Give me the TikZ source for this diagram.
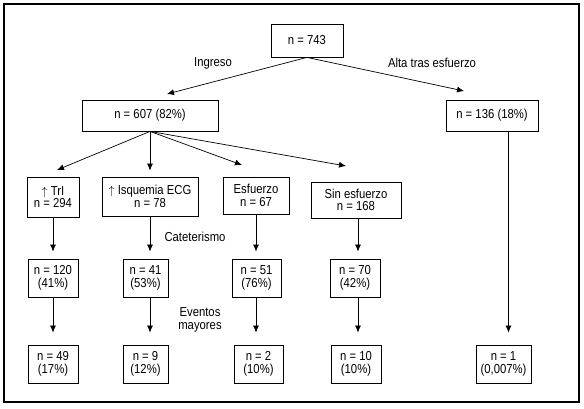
\documentclass[tikz,border=0pt]{standalone}
\usepackage{fontspec}
\setmainfont{Liberation Sans}[FakeStretch=0.87]
\usetikzlibrary{arrows.meta}

\tikzset{
  caja/.style={draw,line width=0.8pt,inner sep=0pt,align=center},
  flecha/.style={-{Latex[length=7pt,width=6pt]},line width=0.7pt},
  every node/.style={font=\fontsize{13}{12.5}\selectfont}
}

\begin{document}
\begin{tikzpicture}[x=1pt,y=-1pt]

\useasboundingbox (0,0) rectangle (584,409);

% Marco
\draw[line width=2pt] (4,4) rectangle (579,402);

% Total
\node[caja,minimum width=72pt,minimum height=33pt] (n743) at (307,40.5)
{n = 743};

\node (ingreso) at (213,63)
{Ingreso};

\node (alta) at (432,63)
{Alta tras esfuerzo};

\node[caja,minimum width=136pt,minimum height=31pt] (n607) at (150,115.5)
{n = 607 (82\%)};

\node[caja,minimum width=92pt,minimum height=31pt] (n136) at (492,115.5)
{n = 136 (18\%)};

\coordinate (pizq) at (167,94);
\coordinate (pder) at (464,91);

\draw[flecha] (n743.south) -- (pizq);
\draw[flecha] (n743.south) -- (pder);

% Grupos
\node[caja,minimum width=52pt,minimum height=40pt] (tri) at (53,197)
{$\uparrow$ TrI\\n = 294};

\node[caja,minimum width=96pt,minimum height=39pt] (isq) at (150,196.5)
{$\uparrow$ Isquemia ECG\\n = 78};

\node[caja,minimum width=66pt,minimum height=37pt] (esf) at (256,195.5)
{Esfuerzo\\n = 67};

\node[caja,minimum width=90pt,minimum height=36pt] (sin) at (356,200)
{Sin esfuerzo\\n = 168};

\coordinate (ptri) at (57,170);
\coordinate (pesf) at (242,165);
\coordinate (psin) at (346,166);

\draw[flecha] (n607.south) -- (ptri);
\draw[flecha,shorten >=6pt] (n607.south) -- (isq.north);
\draw[flecha] (n607.south) -- (pesf);
\draw[flecha] (n607.south) -- (psin);

% Cateterismo
\node (cat) at (195,237)
{Cateterismo};

\node[caja,minimum width=50pt,minimum height=38pt] (n120) at (53,278)
{n = 120\\(41\%)};

\node[caja,minimum width=45pt,minimum height=38pt] (n41) at (145.5,278)
{n = 41\\(53\%)};

\node[caja,minimum width=49pt,minimum height=38pt] (n51) at (256.5,278)
{n = 51\\(76\%)};

\node[caja,minimum width=50pt,minimum height=38pt] (n70) at (355,278)
{n = 70\\(42\%)};

\draw[flecha,shorten >=7pt] (tri.south) -- (tri.south |- n120.north);
\draw[flecha,shorten >=7pt] (isq.south) -- (isq.south |- n41.north);
\draw[flecha,shorten >=7pt] (esf.south) -- (esf.south |- n51.north);
\draw[flecha,shorten >=7pt] ([xshift=2pt]sin.south) -- ([xshift=2pt]sin.south |- n70.north);

% Eventos mayores
\node[align=center] (eventos) at (200,320)
{Eventos\\mayores};

\node[caja,minimum width=50pt,minimum height=38pt] (n49) at (53,364)
{n = 49\\(17\%)};

\node[caja,minimum width=45pt,minimum height=38pt] (n9) at (145.5,364)
{n = 9\\(12\%)};

\node[caja,minimum width=49pt,minimum height=38pt] (n2) at (258.5,364)
{n = 2\\(10\%)};

\node[caja,minimum width=50pt,minimum height=38pt] (n10) at (356,364)
{n = 10\\(10\%)};

\node[caja,minimum width=55pt,minimum height=38pt] (n1) at (503.5,364)
{n = 1\\(0,007\%)};

\draw[flecha,shorten >=12pt] (n120.south) -- (n120.south |- n49.north);
\draw[flecha,shorten >=12pt] (isq.south |- n41.south) -- (isq.south |- n9.north);
\draw[flecha,shorten >=12pt] (esf.south |- n51.south) -- (esf.south |- n9.north);
\draw[flecha,shorten >=12pt] ([xshift=2pt]sin.south |- n70.south) -- ([xshift=2pt]sin.south |- n10.north);
\draw[flecha,shorten >=12pt] ([xshift=5pt]n1.north |- n136.south) -- ([xshift=5pt]n1.north);

\end{tikzpicture}
\end{document}
